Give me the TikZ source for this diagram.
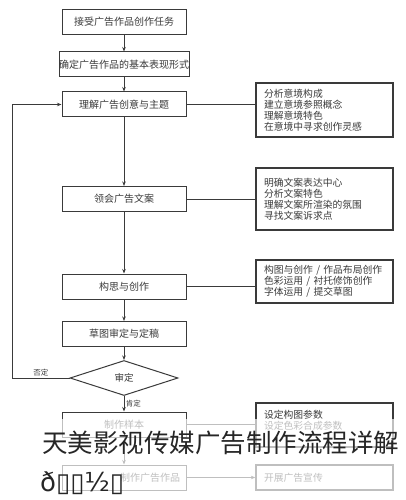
\documentclass[tikz,border=0pt]{standalone}
\usepackage{fontspec}
\setmainfont{Noto Sans CJK SC}
\newfontfamily\glitchfont{DejaVu Sans}
\usetikzlibrary{shapes.geometric, arrows.meta, positioning, calc}
\definecolor{inkgray}{HTML}{3A3A3A}
\definecolor{titlegray}{HTML}{262626}

\begin{document}
\begin{tikzpicture}[x=1pt, y=-1pt,
  stepbox/.style={draw=inkgray, line width=1pt, minimum width=124pt, minimum height=25pt,
    inner sep=0pt, font=\fontsize{10}{11}\selectfont, text=inkgray},
  notebox/.style={draw=inkgray, line width=1.3pt, minimum width=137pt, text width=121pt,
    align=left, inner sep=0pt, font=\fontsize{9.8}{11}\selectfont, text=inkgray},
  flow/.style={-{Stealth[length=4.5pt, width=3.5pt]}, inkgray, line width=0.7pt},
  link/.style={inkgray, line width=0.7pt},
  tag/.style={font=\fontsize{7.5}{8}\selectfont, text=inkgray, inner sep=1.5pt}]
  \useasboundingbox[fill=white] (0,0) rectangle (405,500);

  % Main column
  \node[stepbox] (task) at (124,22) {接受广告作品创作任务};
  \node[stepbox] (form) at (124,64.5) {确定广告作品的基本表现形式};
  \node[stepbox] (theme) at (124,104.5) {理解广告创意与主题};
  \node[stepbox] (copy) at (124,199) {领会广告文案};
  \node[stepbox] (idea) at (124,286.5) {构思与创作};
  \node[stepbox] (draft) at (124,334) {草图审定与定稿};
  \node[diamond, aspect=3.1, draw=inkgray, line width=1pt, minimum width=108pt, minimum height=35pt,
    inner sep=0pt, font=\fontsize{9.5}{11}\selectfont, text=inkgray] (check) at (124,378) {审定};
  \node[stepbox] (sample) at (124,424.5) {制作样本};
  \node[stepbox, text width=112pt, align=right] (make) at (124,477.5) {制作广告作品};

  % Notes on the right
  \node[notebox, minimum height=54pt] (note1) at (324.5,110)
    {分析意境构成\\建立意境参照概念\\理解意境特色\\在意境中寻求创作灵感};
  \node[notebox, minimum height=62pt] (note2) at (324.5,199)
    {明确文案表达中心\\分析文案特色\\理解文案所渲染的氛围\\寻找文案诉求点};
  \node[notebox, minimum height=43pt] (note3) at (324.5,281.5)
    {构图与创作 / 作品布局创作\\色彩运用 / 衬托修饰创作\\字体运用 / 提交草图};
  \node[notebox, minimum height=44pt] (note4) at (324.5,425)
    {设定构图参数\\设定色彩合成参数\\~};
  \node[notebox, minimum height=25pt] (note5) at (324.5,477.5) {开展广告宣传};

  % Flow
  \draw[flow] (task) -- (form);
  \draw[flow] (form) -- (theme);
  \draw[flow] (theme) -- (copy);
  \draw[flow] (copy) -- (idea);
  \draw[flow] (idea) -- (draft);
  \draw[flow] (draft) -- (check);
  \draw[flow] (check) -- node[tag, right] {肯定} (sample);
  \draw[flow] (sample) -- (make);
  \draw[flow] (make) -- (note5);

  % Back loop
  \coordinate (back) at (12,378);
  \draw[flow] (check.west) -- node[tag, above] {否定} (back) |- (theme.west);

  % Links to notes
  \draw[link] (theme.east) -- (theme.east -| note1.west);
  \draw[link] (copy.east) -- (copy.east -| note2.west);
  \draw[link] (idea.east) -- (idea.east -| note3.west);
  \draw[link] (sample.east) -- (sample.east -| note4.west);

  % Faded lower part
  \fill[white, fill opacity=0.68] (0,419) rectangle (405,500);

  % Overlay caption
  \node[font=\fontsize{25.5}{26}\selectfont, text=titlegray, anchor=west, inner sep=0pt] (caption)
    at (42,443) {天美影视传媒广告制作流程详解};
  \node[font=\glitchfont\fontsize{26}{28}\selectfont, text=titlegray, anchor=west, inner sep=0pt] (glitch)
    at (40,483) {ð▯▯½▯};
\end{tikzpicture}
\end{document}
